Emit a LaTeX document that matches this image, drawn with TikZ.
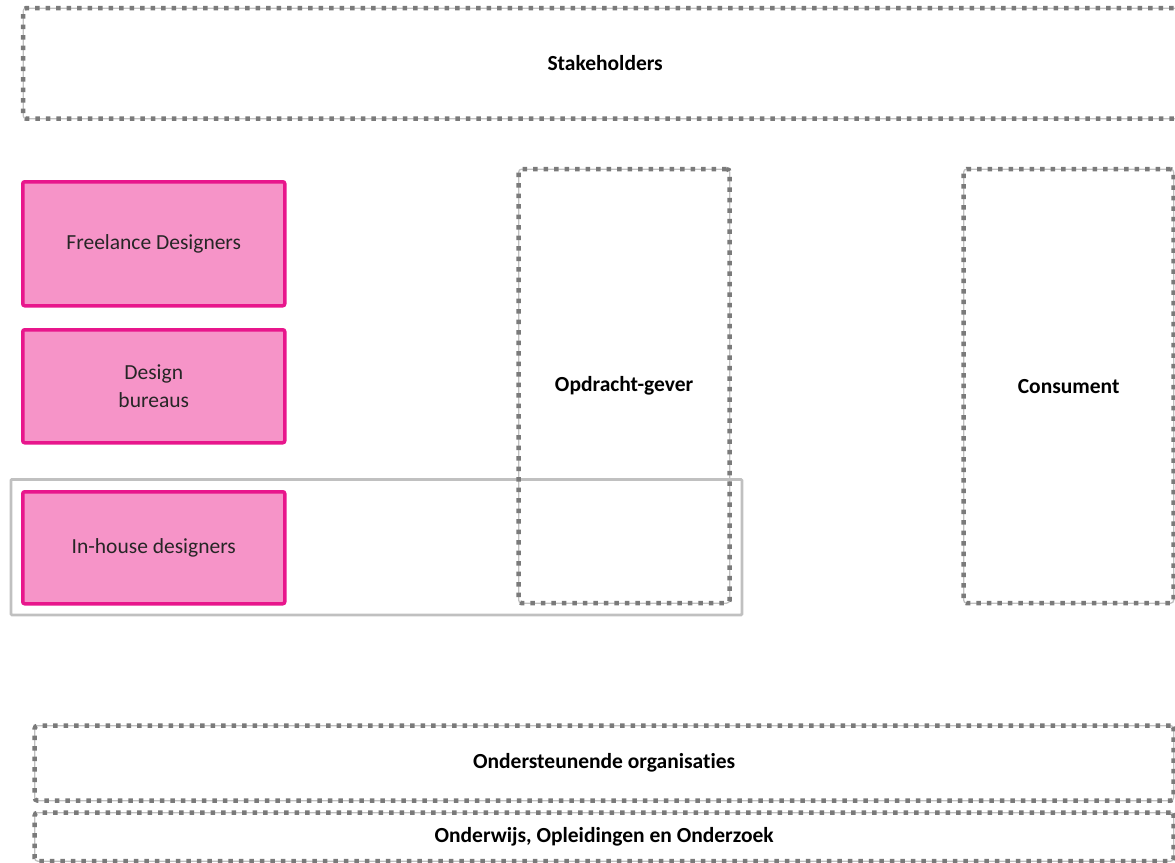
\documentclass[tikz,border=0pt]{standalone}
\usepackage{fontspec}
\setmainfont{Carlito}[Ligatures={NoCommon}]
\definecolor{pinkfill}{HTML}{F694C8}
\definecolor{pinkline}{HTML}{E8168C}
\definecolor{lightline}{HTML}{C0C0C0}
\definecolor{dotgray}{HTML}{7A7A7A}
\definecolor{txt}{HTML}{262626}
\tikzset{
  x=1pt, y=-1pt,
  base/.style={inner sep=0pt, font=\fontsize{21.5}{27.5}\selectfont, align=center},
  pinkbox/.style={base, fill=pinkfill, draw=pinkline, line width=3.5pt, rounded corners=2pt, text=txt},
  dotbox/.style={base, font=\fontsize{21.5}{27.5}\selectfont\bfseries, text=black, draw=lightline, line width=1.3pt, rounded corners=3pt,
    postaction={draw=dotgray, line width=4.5pt, dash pattern=on 4.5pt off 6pt, rounded corners=3pt}},
  groupbox/.style={draw=lightline, line width=2.8pt, rounded corners=1pt},
}
\begin{document}
\begin{tikzpicture}
\useasboundingbox (0,0) rectangle (1175,862);
\clip (0,0) rectangle (1175,862);
% group box
\node[groupbox, minimum width=731pt, minimum height=135.5pt, anchor=north west] (group) at (9.5,478) {};
% stakeholders
\node[dotbox, minimum width=1164pt, minimum height=110.5pt, anchor=north west] (stake) at (22.5,7.5) {Stakeholders};
% designers
\node[pinkbox, minimum width=262pt, minimum height=124pt, anchor=north west] (free) at (21,180) {Freelance Designers};
\node[pinkbox, minimum width=262pt, minimum height=113pt, anchor=north west] (design) at (21,328) {Design\\bureaus};
\node[pinkbox, minimum width=262pt, minimum height=112pt, anchor=north west] (inhouse) at (21,490) {In-house designers};
% opdracht / consument
\node[dotbox, minimum width=211pt, minimum height=434pt, anchor=north west] (opdr) at (518,168.5) {Opdracht-gever};
\node[dotbox, minimum width=210pt, minimum height=434pt, anchor=north west] (cons) at (963,168.5) {Consument};
% bottom bars
\node[dotbox, minimum width=1139pt, minimum height=75pt, anchor=north west] (onders) at (34,725) {Ondersteunende organisaties};
\node[dotbox, minimum width=1139pt, minimum height=48.5pt, anchor=north west] (onderw) at (34,812) {Onderwijs, Opleidingen en Onderzoek};
\end{tikzpicture}
\end{document}
